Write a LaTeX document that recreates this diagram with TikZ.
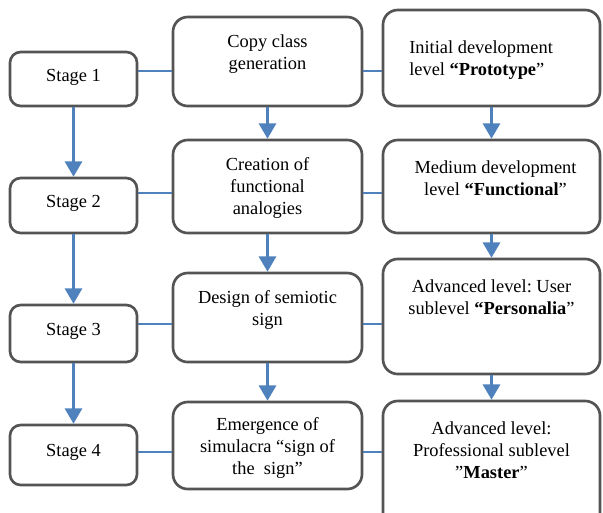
\documentclass[tikz,border=0pt]{standalone}
\usepackage{fontspec}
\setmainfont{Liberation Serif}
\usetikzlibrary{
  positioning,
  arrows.meta,
  calc
}
\definecolor{boxborder}{RGB}{84,84,84}
\definecolor{flowblue}{RGB}{79,129,189}
\frenchspacing

\begin{document}
\begin{tikzpicture}[
      x=0.75pt, y=-0.75pt,
      font=\fontsize{13.8}{16.5}\selectfont,
      stagebox/.style={
        rectangle,
        rounded corners=8pt,
        draw=boxborder,
        line width=2pt,
        minimum width=95.25pt,
        inner sep=0pt
      },
      bigbox/.style={
        rectangle,
        rounded corners=11pt,
        draw=boxborder,
        line width=2pt,
        minimum width=141.75pt,
        inner sep=0pt
      },
      levelbox/.style={
        bigbox,
        minimum width=162.75pt
      },
      txt/.style={
        align=center,
        inner sep=0pt
      },
      flow/.style={
        -{Triangle[length=11.5pt,width=13pt]},
        line width=1.6pt,
        flowblue
      },
      link/.style={
        line width=0.8pt,
        flowblue
      }
    ]

    \clip (0,0) rectangle (603,512);

    % Stages
    \node[stagebox, minimum height=40.5pt] (s1) at (73.5,79) {};
    \node[stagebox, minimum height=41.25pt] (s2) at (73.5,205.5) {};
    \node[stagebox, minimum height=42.75pt] (s3) at (73.5,333.5) {};
    \node[stagebox, minimum height=45pt] (s4) at (73.5,455) {};

    \node[txt] (ts1) at ($(s1.center)+(0,-2)$) {Stage 1};
    \node[txt] (ts2) at ($(s2.center)+(0,-2)$) {Stage 2};
    \node[txt] (ts3) at ($(s3.center)+(0,-2)$) {Stage 3};
    \node[txt] (ts4) at ($(s4.center)+(0,-3)$) {Stage 4};

    % Processes
    \node[bigbox, minimum height=66.75pt] (m1) at (267.5,61.5) {};
    \node[bigbox, minimum height=69.75pt] (m2) at (267.5,186.5) {};
    \node[bigbox, minimum height=66.75pt] (m3) at (267.5,317.5) {};
    \node[bigbox, minimum height=65.25pt] (m4) at (267.5,445.5) {};

    \node[txt] (tm1) at ($(m1.center)+(0,-7)$) {Copy class\\generation};
    \node[txt] (tm2) at ($(m2.center)+(0,1)$) {Creation of\\functional\\analogies};
    \node[txt] (tm3) at ($(m3.center)+(0,-8)$) {Design of semiotic\\sign};
    \node[txt] (tm4) at ($(m4.center)+(0,2)$)
      {Emergence of\\simulacra “sign of\\the~~sign”};

    % Levels
    \node[levelbox, minimum height=72pt] (r1) at (491.5,58) {};
    \node[levelbox, minimum height=69.75pt] (r2) at (491.5,186.5) {};
    \node[levelbox, minimum height=86.25pt] (r3) at (491.5,316.5) {};
    \node[levelbox, minimum height=105pt] (r4) at (491.5,471) {};

    \node[txt, align=left, anchor=west] (tr1) at (409,60.5)
      {Initial development\\level \textbf{“Prototype}”};
    \node[txt] (tr2) at ($(r2.center)+(4,-8)$)
      {Medium development\\level \textbf{“Functional}”};
    \node[txt] (tr3) at ($(r3.center)+(0,-19)$)
      {Advanced level: User\\sublevel \textbf{“Personalia}”};
    \node[txt] (tr4) at (491.5,450)
      {Advanced level:\\Professional sublevel\\”\textbf{Master}”};

    % Row links
    \coordinate (row1) at (0,71);
    \coordinate (row2) at (0,193);
    \coordinate (row3) at (0,324);
    \coordinate (row4) at (0,452);

    \foreach \i in {1,...,4} {
      \draw[link] (s\i.east |- row\i) -- (m\i.west |- row\i);
      \draw[link] (m\i.east |- row\i) -- (r\i.west |- row\i);
    }

    % Flows
    \foreach \a/\b in {1/2,2/3,3/4} {
      \draw[flow] (s\a) -- (s\b);
      \draw[flow] (m\a) -- (m\b);
      \draw[flow] (r\a) -- (r\b);
    }

\end{tikzpicture}
\end{document}
